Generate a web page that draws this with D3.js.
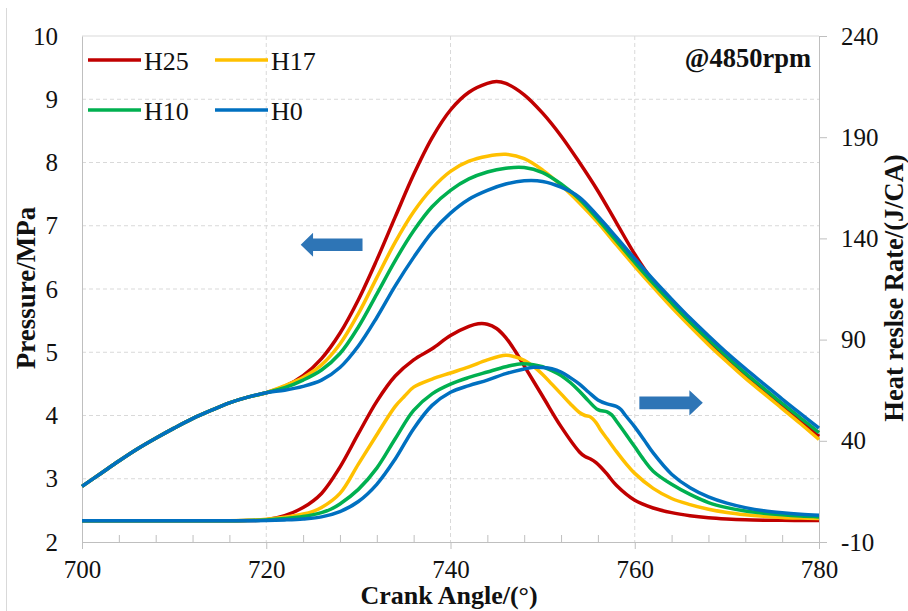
<!DOCTYPE html>
<html>
<head>
<meta charset="utf-8">
<script src="https://cdn.jsdelivr.net/npm/d3@7"></script>
<style>
  body { margin: 0; background: #fff; }
  svg text { font-family: "Liberation Serif", "Times New Roman", serif; fill: #111; }
</style>
</head>
<body>
<div id="chart"></div>
<script>
// series names + colours (legend order)
const seriesNames = ["H25", "H17", "H10", "H0"];
const seriesColors = ["#C00000", "#FFC000", "#00B050", "#0070C0"];

// ticks
const xTicks = [700, 720, 740, 760, 780];
const pTicks = [2, 3, 4, 5, 6, 7, 8, 9, 10];
const hTicks = [-10, 40, 90, 140, 190, 240];

// compression part, same for all cases
const motoredAngle = [700, 702, 704, 706, 708, 710, 712, 714, 716, 718, 720];
const motoredP = [2.88, 3.08, 3.28, 3.47, 3.64, 3.80, 3.95, 4.08, 4.20, 4.29, 4.36];

// cylinder pressure (MPa) after 720
const pAngleH25 = [722, 724, 726, 728, 730, 732, 734, 736, 738, 740, 742, 744, 745, 746, 748, 750, 752, 754, 756, 758, 760, 762, 764, 766, 768, 770, 772, 774, 776, 778, 780];
const pH25 = [4.46, 4.63, 4.90, 5.30, 5.83, 6.46, 7.14, 7.81, 8.39, 8.83, 9.11, 9.25, 9.28, 9.25, 9.07, 8.78, 8.42, 8.00, 7.55, 7.05, 6.55, 6.12, 5.76, 5.44, 5.15, 4.88, 4.62, 4.38, 4.14, 3.91, 3.67];

const pAngle = [722, 724, 726, 728, 730, 732, 734, 736, 738, 740, 742, 744, 746, 748, 750, 752, 754, 756, 758, 760, 762, 764, 766, 768, 770, 772, 774, 776, 778, 780];
const pH17 = [4.47, 4.60, 4.80, 5.13, 5.61, 6.18, 6.74, 7.22, 7.59, 7.86, 8.02, 8.10, 8.13, 8.06, 7.88, 7.64, 7.36, 7.05, 6.70, 6.36, 6.03, 5.71, 5.41, 5.12, 4.85, 4.59, 4.35, 4.11, 3.87, 3.62];
const pH10 = [4.44, 4.56, 4.72, 4.98, 5.40, 5.92, 6.45, 6.92, 7.30, 7.56, 7.74, 7.85, 7.91, 7.92, 7.84, 7.66, 7.42, 7.10, 6.76, 6.42, 6.09, 5.78, 5.48, 5.20, 4.93, 4.67, 4.43, 4.19, 3.96, 3.73];
const pH0 = [4.40, 4.46, 4.56, 4.76, 5.10, 5.55, 6.05, 6.50, 6.90, 7.20, 7.42, 7.56, 7.66, 7.71, 7.70, 7.61, 7.45, 7.15, 6.82, 6.48, 6.15, 5.84, 5.54, 5.26, 4.99, 4.74, 4.50, 4.26, 4.03, 3.80];

// heat release rate (J/CA)
const hAngleH25 = [700, 716, 718, 720, 722, 724, 726, 728, 730, 732, 734, 736, 738, 740, 742, 743, 744, 745, 746, 747, 748, 750, 752, 754, 754.6, 755.2, 755.8, 756.3, 757, 758, 760, 762, 764, 766, 768, 770, 772, 774, 776, 778, 780];
const hH25 = [0.5, 0.5, 0.6, 1.0, 3.0, 7.0, 14.0, 27.0, 43.5, 59.5, 72.0, 80.0, 85.5, 92.0, 96.5, 97.8, 97.6, 95.5, 91.0, 84.5, 77.0, 62.0, 47.0, 34.5, 32.2, 31.0, 29.2, 27.1, 23.5, 18.0, 10.6, 6.8, 4.5, 3.0, 2.0, 1.4, 1.0, 0.8, 0.7, 0.6, 0.6];

const hAngleH17 = [700, 716, 718, 720, 722, 724, 725, 726, 728, 730, 732, 734, 735, 736, 738, 740, 742, 744, 746, 747, 748, 749, 750, 751, 752, 753, 754, 754.6, 755.2, 755.8, 756.3, 757, 758, 759, 760, 762, 764, 766, 768, 770, 772, 774, 776, 778, 780];
const hH17 = [0.5, 0.5, 0.7, 1.2, 2.2, 3.8, 5.0, 7.0, 14.0, 28.5, 43.0, 57.0, 62.0, 66.5, 70.5, 73.5, 76.5, 80.0, 82.3, 81.5, 79.8, 76.8, 72.8, 68.0, 63.2, 58.3, 54.0, 52.5, 51.8, 49.0, 45.3, 41.0, 34.8, 29.0, 23.9, 16.5, 11.5, 8.5, 6.2, 4.6, 3.5, 2.7, 2.1, 1.8, 1.6];

const hAngleH10 = [700, 716, 718, 720, 722, 724, 726, 727, 728, 730, 732, 734, 736, 738, 740, 742, 744, 746, 747.5, 749, 750, 751, 752, 753, 754, 755, 756, 757, 757.5, 758, 759, 760, 761, 762, 764, 766, 768, 770, 772, 774, 776, 778, 780];
const hH10 = [0.5, 0.5, 0.6, 0.9, 1.6, 2.6, 4.5, 6.2, 8.8, 16.0, 26.5, 41.0, 55.0, 63.2, 68.0, 71.3, 74.0, 76.6, 78.0, 77.6, 76.6, 74.7, 72.3, 68.8, 64.5, 59.6, 55.4, 54.3, 52.8, 49.8, 43.5, 37.0, 30.5, 25.0, 18.5, 13.5, 9.5, 7.0, 5.3, 4.2, 3.4, 2.8, 2.4];

const hAngleH0 = [700, 716, 718, 720, 722, 724, 726, 728, 730, 732, 734, 736, 738, 740, 742, 744, 746, 748, 749, 750, 751, 752, 753, 754, 755, 756, 757, 758, 758.5, 759, 760, 761, 762, 764, 766, 768, 770, 772, 774, 776, 778, 780];
const hH0 = [0.5, 0.5, 0.5, 0.6, 0.9, 1.4, 2.4, 5.0, 10.0, 18.5, 31.0, 46.0, 57.5, 64.0, 67.3, 70.0, 73.2, 75.5, 76.3, 76.2, 75.6, 74.0, 71.2, 68.0, 64.0, 60.2, 58.2, 57.0, 55.5, 52.5, 46.9, 40.5, 34.0, 23.5, 16.8, 12.3, 9.2, 7.0, 5.4, 4.4, 3.7, 3.2];

// direction arrows, in [angle, MPa]
const leftArrow = [[723.74, 6.70], [725.08, 6.89], [725.08, 6.80], [730.45, 6.80], [730.45, 6.60], [725.08, 6.60], [725.08, 6.51]];
const rightArrow = [[760.5, 4.30], [765.93, 4.30], [765.93, 4.40], [767.39, 4.20], [765.93, 4.00], [765.93, 4.10], [760.5, 4.10]];

const zip = (a, b) => a.map((x, i) => [x, b[i]]);
const pressure = [
  zip(motoredAngle.concat(pAngleH25), motoredP.concat(pH25)),
  zip(motoredAngle.concat(pAngle), motoredP.concat(pH17)),
  zip(motoredAngle.concat(pAngle), motoredP.concat(pH10)),
  zip(motoredAngle.concat(pAngle), motoredP.concat(pH0))
];
const heat = [zip(hAngleH25, hH25), zip(hAngleH17, hH17), zip(hAngleH10, hH10), zip(hAngleH0, hH0)];

const W = 908, H = 611;
const margin = {top: 36, right: 89, bottom: 69, left: 82};
const width = W - margin.left - margin.right;
const height = H - margin.top - margin.bottom;

const svg = d3.select("#chart").append("svg")
    .attr("width", W)
    .attr("height", H);

// outer chart frame edge
svg.append("line")
    .attr("x1", 6.5).attr("x2", 6.5).attr("y1", 8).attr("y2", H)
    .attr("stroke", "#d9d9d9");

const g = svg.append("g")
    .attr("transform", `translate(${margin.left},${margin.top})`);

const x = d3.scaleLinear().domain([700, 780]).range([0, width]);
const yP = d3.scaleLinear().domain([2, 10]).range([height, 0]);
const yH = d3.scaleLinear().domain([-10, 240]).range([height, 0]);

// grid
g.append("g").selectAll("line")
    .data(pTicks.slice(1, -1))
    .join("line")
    .attr("x1", 0).attr("x2", width)
    .attr("y1", d => yP(d)).attr("y2", d => yP(d))
    .attr("stroke", "#d9d9d9").attr("stroke-dasharray", "4,3");
g.append("g").selectAll("line")
    .data(xTicks.slice(1, -1))
    .join("line")
    .attr("x1", d => x(d)).attr("x2", d => x(d))
    .attr("y1", 0).attr("y2", height)
    .attr("stroke", "#d9d9d9").attr("stroke-dasharray", "4,3");
g.append("line")
    .attr("x1", 0).attr("x2", width).attr("y1", 0).attr("y2", 0)
    .attr("stroke", "#d9d9d9");

// axes
const axisColor = "#bfbfbf";
function styleAxis(sel, size) {
  sel.selectAll("path, line").attr("stroke", axisColor);
  sel.selectAll("text").attr("font-size", size).attr("fill", "#111");
}

const xAxis = g.append("g")
    .attr("transform", `translate(0,${height})`)
    .call(d3.axisBottom(x).tickValues(xTicks).tickSizeInner(7).tickSizeOuter(0).tickPadding(10));
styleAxis(xAxis, "25px");
xAxis.selectAll("text").attr("dy", "0.74em");

const xMinor = g.append("g")
    .attr("transform", `translate(0,${height})`)
    .call(d3.axisTop(x).tickValues(d3.range(704, 780, 4).filter(d => d % 20 != 0)).tickSize(7).tickFormat(""));
xMinor.select("path").remove();
styleAxis(xMinor, "1px");

const yAxisL = g.append("g")
    .call(d3.axisLeft(yP).tickValues(pTicks).tickSize(0).tickPadding(24));
styleAxis(yAxisL, "25px");

const yAxisR = g.append("g")
    .attr("transform", `translate(${width},0)`)
    .call(d3.axisRight(yH).tickValues(hTicks).tickSizeInner(8).tickSizeOuter(0).tickPadding(14)
      .tickFormat(d => String(d)));
styleAxis(yAxisR, "25px");

// curves
const line = (yScale) => d3.line()
    .x(d => x(d[0]))
    .y(d => yScale(d[1]))
    .curve(d3.curveCatmullRom.alpha(0.5));

g.append("g").selectAll("path")
    .data(pressure)
    .join("path")
    .attr("d", line(yP))
    .attr("fill", "none")
    .attr("stroke", (d, i) => seriesColors[i])
    .attr("stroke-width", 3.5);

g.append("g").selectAll("path")
    .data(heat)
    .join("path")
    .attr("d", line(yH))
    .attr("fill", "none")
    .attr("stroke", (d, i) => seriesColors[i])
    .attr("stroke-width", 3.5);

// arrows
g.append("g").selectAll("path")
    .data([leftArrow, rightArrow])
    .join("path")
    .attr("d", d => d3.line().x(p => x(p[0])).y(p => yP(p[1]))(d) + "Z")
    .attr("fill", "#2E75B6");

// legend
const legend = svg.append("g");
seriesNames.forEach((name, i) => {
  const lx = 88 + (i % 2) * 127;
  const ly = 60 + Math.floor(i / 2) * 50;
  legend.append("line")
      .attr("x1", lx).attr("x2", lx + 53)
      .attr("y1", ly).attr("y2", ly)
      .attr("stroke", seriesColors[i]).attr("stroke-width", 3.5);
  legend.append("text")
      .attr("x", lx + 56).attr("y", ly + 10)
      .attr("font-size", "26px")
      .text(name);
});

svg.append("text")
    .attr("x", 811).attr("y", 67)
    .attr("text-anchor", "end")
    .attr("font-size", "26.5px").attr("font-weight", "bold")
    .text("@4850rpm");

// axis titles
svg.append("text")
    .attr("x", 449).attr("y", 604)
    .attr("text-anchor", "middle")
    .attr("font-size", "26px").attr("font-weight", "bold")
    .text("Crank Angle/(°)");

svg.append("text")
    .attr("transform", "translate(35,288) rotate(-90)")
    .attr("text-anchor", "middle")
    .attr("font-size", "27px").attr("font-weight", "bold")
    .text("Pressure/MPa");

svg.append("text")
    .attr("transform", "translate(903,288) rotate(-90)")
    .attr("text-anchor", "middle")
    .attr("font-size", "26.5px").attr("font-weight", "bold")
    .text("Heat reslse Rate/(J/CA)");
</script>
</body>
</html>
